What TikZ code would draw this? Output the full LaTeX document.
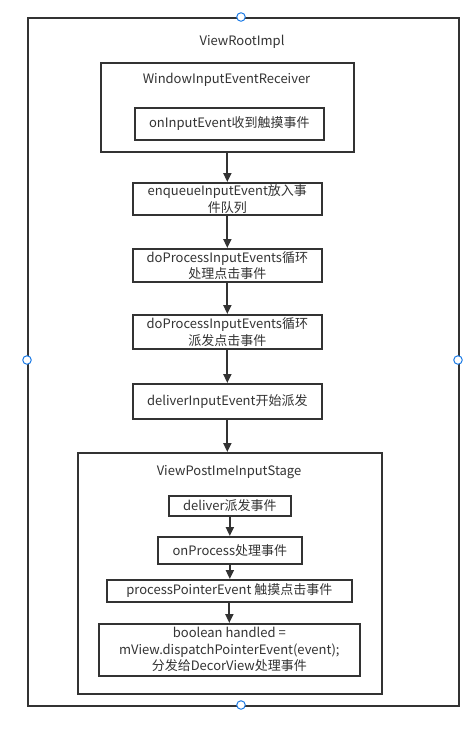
\documentclass[tikz,border=0pt]{standalone}
\usepackage{fontspec}
\setmainfont{Noto Sans CJK SC}
\usetikzlibrary{arrows.meta,calc}
\definecolor{ln}{HTML}{333333}
\definecolor{tx}{HTML}{333333}
\definecolor{hb}{HTML}{1E7CE6}
\tikzset{
  box/.style={draw=ln,line width=1.7pt,fill=white,inner sep=0pt,anchor=north west},
  lbl/.style={text=tx,font=\fontsize{13}{16.5}\selectfont,align=center,inner sep=0pt},
  arr/.style={draw=ln,line width=2pt,-{Triangle[length=9pt,width=8pt]}},
  handle/.style={circle,draw=hb,fill=white,line width=1pt,minimum size=8.5pt,inner sep=0pt}
}
\newcommand{\bx}[5]{% name, x1, y1, x2, y2
  \path (#2,#3) coordinate (#1-nw) (#4,#5) coordinate (#1-se);
  \node[box,minimum width={#4-#2},minimum height={#5-#3}] (#1) at (#2,#3) {};}
\begin{document}
\begin{tikzpicture}[x=1pt,y=-1pt]
\useasboundingbox (0,0) rectangle (473,739);
% outer
\bx{root}{27}{17}{458}{705}
\node[lbl] (rootT) at (242,42) {ViewRootImpl};
\bx{recv}{100}{62}{353}{151}
\node[lbl] (recvT) at (226.5,80) {WindowInputEventReceiver};
\bx{oie}{134}{107}{323}{139}
\node[lbl] (oieT) at (oie) {onInputEvent收到触摸事件};
\bx{enq}{132}{182}{321}{214}
\node[lbl] (enqT) at (enq) {enqueueInputEvent放入事\\件队列};
\bx{dp1}{132}{248}{321}{281}
\node[lbl] (dp1T) at (dp1) {doProcessInputEvents循环\\处理点击事件};
\bx{dp2}{132}{314}{321}{348}
\node[lbl] (dp2T) at (dp2) {doProcessInputEvents循环\\派发点击事件};
\bx{dlv}{132}{383}{321}{418}
\node[lbl] (dlvT) at (dlv) {deliverInputEvent开始派发};
\bx{vpi}{77}{452}{381}{693}
\node[lbl] (vpiT) at (229,472) {ViewPostImeInputStage};
\bx{dv}{168}{495}{290}{515}
\node[lbl] (dvT) at (dv) {deliver派发事件};
\bx{op}{157}{536}{301}{563}
\node[lbl] (opT) at (op) {onProcess处理事件};
\bx{ppe}{106}{579}{351}{601}
\node[lbl] (ppeT) at (ppe) {processPointerEvent 触摸点击事件};
\bx{bh}{98}{623}{359}{675}
\node[lbl] (bhT) at (bh) {boolean handled =\\mView.dispatchPointerEvent(event);\\分发给DecorView处理事件};
% arrows
\draw[arr] (recv.south) -- (enq.north);
\draw[arr] (enq.south) -- (dp1.north);
\draw[arr] (dp1.south) -- (dp2.north);
\draw[arr] (dp2.south) -- (dlv.north);
\draw[arr] (dlv.south) -- (dlv.south |- vpi.north);
\draw[arr] (dv.south) -- (dv.south |- op.north);
\draw[arr] (op.south) -- (op.south |- ppe.north);
\draw[arr] (ppe.south) -- (ppe.south |- bh.north);
% handles
\node[handle] (h1) at (241,17) {};
\node[handle] (h2) at (27,360) {};
\node[handle] (h3) at (458,360) {};
\node[handle] (h4) at (241,705) {};
\end{tikzpicture}
\end{document}
